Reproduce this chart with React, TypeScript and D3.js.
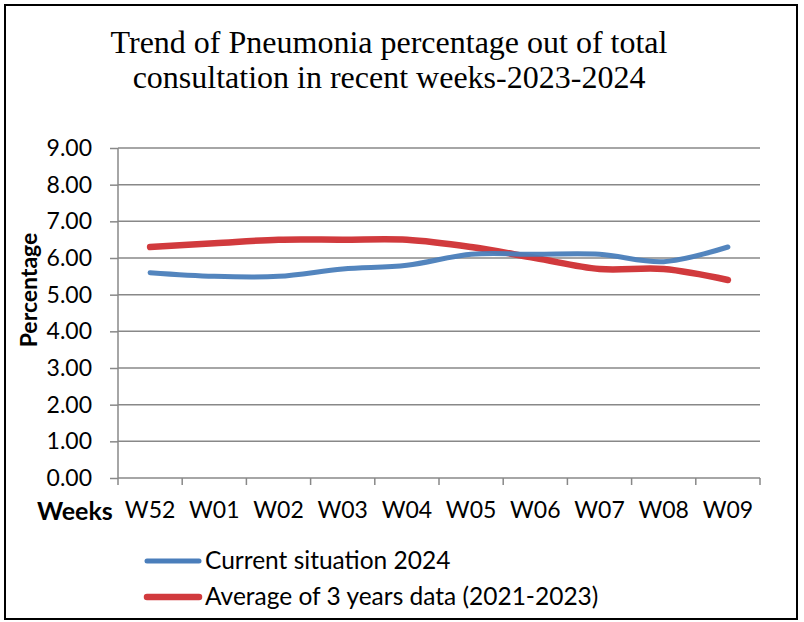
import { useRef, useEffect } from "react";
import * as d3 from "d3";

const weeks = ["W52", "W01", "W02", "W03", "W04", "W05", "W06", "W07", "W08", "W09"];
const current2024 = [5.6, 5.5, 5.5, 5.7, 5.8, 6.1, 6.1, 6.1, 5.9, 6.3];
const average3y = [6.3, 6.4, 6.5, 6.5, 6.5, 6.3, 6.0, 5.7, 5.7, 5.4];
const yTicks = [0, 1, 2, 3, 4, 5, 6, 7, 8, 9];
const titleLines = ["Trend of Pneumonia percentage out of total", "consultation in recent weeks-2023-2024"];
const seriesNames = ["Current situation 2024", "Average of 3 years data (2021-2023)"];

const W = 804;
const H = 622;
const left = 118, right = 760, top = 148, bottom = 478;
const blue = "#4a7ebb";
const red = "#d13a3d";
const grid = "#888888";
const sans = "Lato, 'Open Sans', sans-serif";

export default function App() {
  const root = useRef<SVGSVGElement>(null);

  useEffect(() => {
    const svg = d3.select(root.current);
    svg.selectAll("*").remove();

    const x = d3.scaleBand<string>().domain(weeks).range([left, right]);
    const y = d3.scaleLinear().domain([0, 9]).range([bottom, top]);

    // outer frame
    svg.append("rect")
      .attr("x", 5).attr("y", 5)
      .attr("width", 792).attr("height", 614)
      .attr("fill", "white").attr("stroke", "#000").attr("stroke-width", 2);

    // title
    svg.append("g").selectAll("text")
      .data(titleLines)
      .enter()
      .append("text")
      .attr("x", 389)
      .attr("y", (d, i) => 53 + i * 35)
      .attr("text-anchor", "middle")
      .attr("font-family", "'Liberation Serif', 'Times New Roman', serif")
      .attr("font-size", 32)
      .attr("fill", "#000")
      .text(d => d);

    // grid lines
    svg.append("g").selectAll("line")
      .data(yTicks.filter(t => t > 0))
      .enter()
      .append("line")
      .attr("x1", left).attr("x2", right)
      .attr("y1", d => y(d)).attr("y2", d => y(d))
      .attr("stroke", grid).attr("stroke-width", 1.5);

    // y axis
    const yAxis = svg.append("g")
      .attr("transform", "translate(" + left + ",0)")
      .call(d3.axisLeft(y).tickValues(yTicks).tickFormat(d3.format(".2f")).tickSize(8).tickPadding(18));
    yAxis.select(".domain").remove();
    yAxis.selectAll("line").attr("stroke", grid).attr("stroke-width", 1.5);
    yAxis.selectAll("text").attr("font-family", sans).attr("font-size", 23).attr("fill", "#000");
    svg.append("line")
      .attr("x1", left).attr("x2", left).attr("y1", top).attr("y2", bottom)
      .attr("stroke", grid).attr("stroke-width", 1.5);

    // x axis
    const xAxis = svg.append("g")
      .attr("transform", "translate(0," + bottom + ")")
      .call(d3.axisBottom(x).tickSize(0).tickPadding(24));
    xAxis.select(".domain").remove();
    xAxis.selectAll("text").attr("font-family", sans).attr("font-size", 23).attr("fill", "#000");
    svg.append("line")
      .attr("x1", left).attr("x2", right).attr("y1", bottom).attr("y2", bottom)
      .attr("stroke", grid).attr("stroke-width", 1.5);
    const bounds = weeks.map(w => x(w) as number).concat([right]);
    svg.append("g").selectAll("line")
      .data(bounds)
      .enter()
      .append("line")
      .attr("x1", d => d).attr("x2", d => d)
      .attr("y1", bottom).attr("y2", bottom + 7)
      .attr("stroke", grid).attr("stroke-width", 1.5);

    // axis titles
    svg.append("text")
      .attr("transform", "translate(37,290) rotate(-90)")
      .attr("text-anchor", "middle")
      .attr("font-family", sans).attr("font-weight", "bold").attr("font-size", 23)
      .text("Percentage");
    svg.append("text")
      .attr("x", 37).attr("y", 520)
      .attr("font-family", sans).attr("font-weight", "bold").attr("font-size", 25)
      .text("Weeks");

    // lines
    const line = d3.line<number>()
      .x((d, i) => (x(weeks[i]) as number) + x.bandwidth() / 2)
      .y(d => y(d))
      .curve(d3.curveCatmullRom.alpha(0.5));

    svg.append("path")
      .attr("d", line(average3y))
      .attr("fill", "none").attr("stroke", red).attr("stroke-width", 6.5)
      .attr("stroke-linecap", "round").attr("stroke-linejoin", "round");
    svg.append("path")
      .attr("d", line(current2024))
      .attr("fill", "none").attr("stroke", blue).attr("stroke-width", 5)
      .attr("stroke-linecap", "round").attr("stroke-linejoin", "round")
      .attr("opacity", 0.95);

    // legend
    const legend = svg.append("g").selectAll("g")
      .data(seriesNames)
      .enter()
      .append("g")
      .attr("transform", (d, i) => "translate(0," + (561 + i * 36) + ")");
    legend.append("line")
      .attr("x1", 147).attr("x2", 199)
      .attr("stroke", (d, i) => (i === 0 ? blue : red))
      .attr("stroke-width", (d, i) => (i === 0 ? 5 : 6.5))
      .attr("stroke-linecap", "round");
    legend.append("text")
      .attr("x", 205).attr("y", 8)
      .attr("font-family", sans).attr("font-size", 24.5)
      .text(d => d);
  }, []);

  return (
    <svg ref={root} width={W} height={H} style={{ position: "absolute", left: 0, top: 0, background: "white" }} />
  );
}
